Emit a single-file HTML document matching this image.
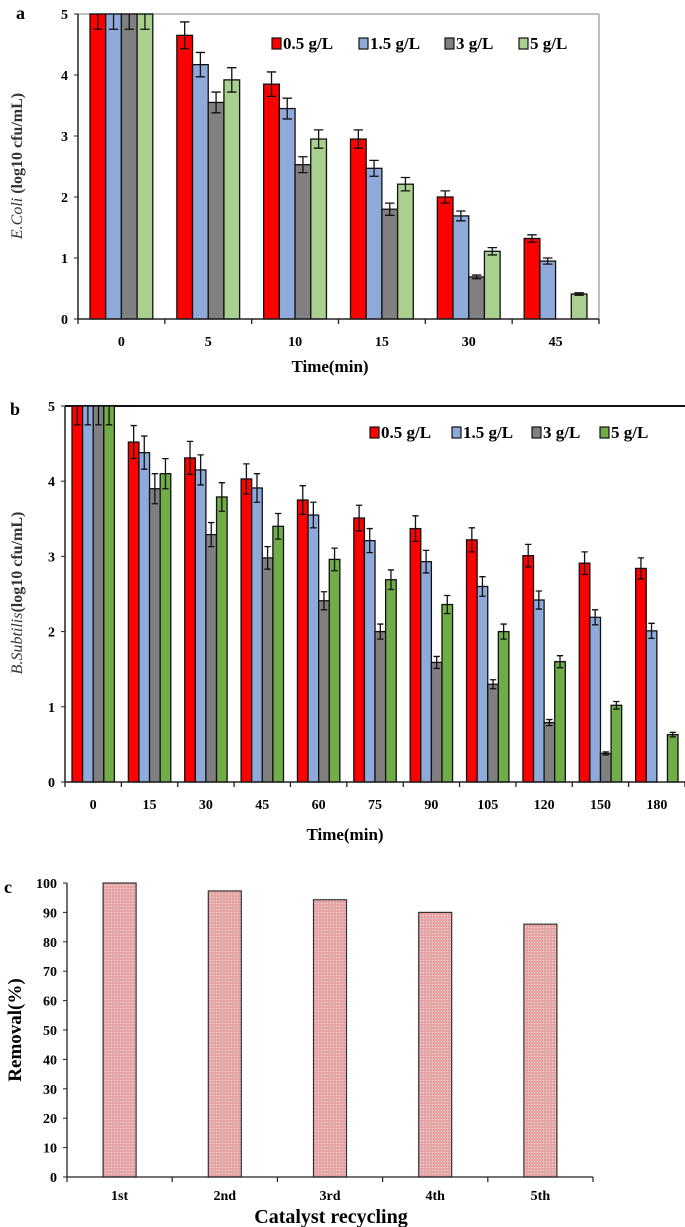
<!DOCTYPE html>
<html><head><meta charset="utf-8"><style>
html,body{margin:0;padding:0;background:#fff;}
svg{display:block;font-family:"Liberation Serif",serif;}
text{font-weight:bold;}
</style></head><body>
<svg id="fig" width="685" height="1227" viewBox="0 0 685 1227">
<defs>
<pattern id="dots" width="3" height="3" patternUnits="userSpaceOnUse">
<rect width="3" height="3" fill="#e7a4a4"/><rect x="0" y="0" width="1" height="1" fill="#fbe6e6"/>
</pattern>
</defs>
</svg>
<script>
// Panel a data
const aCats=["0","5","10","15","30","45"];
const aRed=[5,4.65,3.85,2.95,2.0,1.32];
const aBlue=[5,4.17,3.45,2.47,1.69,0.95];
const aGray=[5,3.55,2.53,1.8,0.69,0];
const aGreen=[5,3.92,2.95,2.21,1.11,0.41];
const aErrRed=[0.25,0.22,0.2,0.15,0.1,0.06];
const aErrBlue=[0.25,0.2,0.17,0.13,0.08,0.05];
const aErrGray=[0.25,0.17,0.13,0.1,0.03,0];
const aErrGreen=[0.25,0.2,0.15,0.11,0.06,0.02];
const aTicks=[0,1,2,3,4,5];
// Panel b data
const bCats=["0","15","30","45","60","75","90","105","120","150","180"];
const bRed=[5,4.52,4.31,4.03,3.75,3.51,3.37,3.22,3.01,2.91,2.84];
const bBlue=[5,4.38,4.15,3.91,3.55,3.21,2.93,2.6,2.42,2.19,2.01];
const bGray=[5,3.9,3.29,2.98,2.41,2.0,1.59,1.3,0.79,0.38,0];
const bGreen=[5,4.1,3.79,3.4,2.96,2.69,2.36,2.0,1.6,1.02,0.63];
const bErrRed=[0.25,0.22,0.22,0.2,0.19,0.17,0.17,0.16,0.15,0.15,0.14];
const bErrBlue=[0.25,0.22,0.2,0.19,0.17,0.16,0.15,0.13,0.12,0.1,0.1];
const bErrGray=[0.25,0.2,0.16,0.15,0.12,0.1,0.08,0.06,0.04,0.02,0];
const bErrGreen=[0.25,0.2,0.19,0.17,0.15,0.13,0.12,0.1,0.08,0.05,0.03];
const bTicks=[0,1,2,3,4,5];
// Panel c data
const cCats=["1st","2nd","3rd","4th","5th"];
const cVals=[100,97.3,94.3,90,86];
const cTicks=[0,10,20,30,40,50,60,70,80,90,100];
const seriesNames=["0.5 g/L","1.5 g/L","3 g/L","5 g/L"];

const svg=document.getElementById('fig');
const NS="http://www.w3.org/2000/svg";
function mk(tag,attrs,parent){const e=document.createElementNS(NS,tag);for(const k in attrs)e.setAttribute(k,attrs[k]);(parent||svg).appendChild(e);return e;}
function txt(x,y,s,size,anchor,parent){const t=mk('text',{x:x,y:y,'font-size':size,'text-anchor':anchor||'middle'},parent);t.textContent=s;return t;}

function groupedChart(o){
  const g=mk('g',{});
  
  
  const y=v=>o.y0-(v/o.ymax)*(o.y0-o.y1);
  const gw=(o.x1-o.x0)/o.cats.length;
  if(o.frameTop) mk('line',{x1:o.x0,y1:o.y1,x2:o.x1,y2:o.y1,stroke:o.frameColor,'stroke-width':o.frameW},g);
  if(o.frameRight) mk('line',{x1:o.x1,y1:o.y1,x2:o.x1,y2:o.y0,stroke:o.frameColor,'stroke-width':o.frameW},g);
  o.series.forEach((s,si)=>{
    s.vals.forEach((v,i)=>{
      if(v<=0) return;
      const x=o.x0+i*gw+o.off+si*o.bw;
      const b=mk('rect',{x:x,y:y(v),width:o.bw,height:o.y0-y(v),fill:o.colors[si],stroke:'#111','stroke-width':1.3},g);
      
      
      const e=s.err[i];
      if(e>0){
        const cx=x+o.bw/2, cap=o.bw*0.3;
        const top=Math.min(v+e,o.ymax);
        let d=`M${cx},${y(top)}V${y(v-e)}M${cx-cap},${y(v-e)}H${cx+cap}`;
        if(v+e<=o.ymax) d+=`M${cx-cap},${y(v+e)}H${cx+cap}`;
        mk('path',{d:d,stroke:'#111','stroke-width':1.3,fill:'none'},g);
      }
    });
  });
  mk('line',{x1:o.x0,y1:o.y1,x2:o.x0,y2:o.y0+0.5,stroke:'#222','stroke-width':1.5},g);
  mk('line',{x1:o.x0,y1:o.y0,x2:o.x1,y2:o.y0,stroke:'#222','stroke-width':1.5},g);
  o.ticks.forEach(t=>{
    mk('line',{x1:o.x0-4,y1:y(t),x2:o.x0,y2:y(t),stroke:'#222','stroke-width':1},g);
    const l=txt(o.x0-10,y(t)+5,String(t),14,'end',g);
    
    
  });
  for(let i=0;i<=o.cats.length;i++){
    mk('line',{x1:o.x0+i*gw,y1:o.y0,x2:o.x0+i*gw,y2:o.y0+5,stroke:'#222','stroke-width':1.3},g);
  }
  o.cats.forEach((c,i)=>{
    const l=txt(o.x0+(i+0.5)*gw,o.y0+27,c,14,'middle',g);
    
    
  });
  o.legendX.forEach((lx,si)=>{
    const le=mk('g',{},g);
    
    
    mk('rect',{x:lx,y:o.legendY-10,width:9,height:11,fill:o.colors[si],stroke:'#111','stroke-width':1.2},le);
    txt(lx+11,o.legendY+1,seriesNames[si],17,'start',le);
  });
  return g;
}

groupedChart({name:'chart-ecoli',cats:aCats,x0:78,x1:599,y0:319,y1:14,ymax:5,bw:15.7,off:12,
  series:[{vals:aRed,err:aErrRed},{vals:aBlue,err:aErrBlue},{vals:aGray,err:aErrGray},{vals:aGreen,err:aErrGreen}],
  colors:['#ff0000','#8eaadb','#808080','#a9d08e'],ticks:aTicks,frameTop:true,frameRight:true,frameColor:'#aaa',frameW:1.5,
  legendX:[272,359,445,519],legendY:48});
groupedChart({name:'chart-bsubtilis',cats:bCats,x0:65,x1:685,y0:782,y1:406,ymax:5,bw:10.6,off:7,
  series:[{vals:bRed,err:bErrRed},{vals:bBlue,err:bErrBlue},{vals:bGray,err:bErrGray},{vals:bGreen,err:bErrGreen}],
  colors:['#ff0000','#8eaadb','#808080','#70ad47'],ticks:bTicks,frameTop:true,frameRight:false,frameColor:'#111',frameW:2,
  legendX:[370,452,532,600],legendY:437});

(function(){
  const g=mk('g',{});
  
  
  const x0=67,x1=593,y0=1177,y1=883,ymax=100;
  const y=v=>y0-(v/ymax)*(y0-y1);
  const gw=(x1-x0)/cCats.length;
  cVals.forEach((v,i)=>{
    const x=x0+i*gw+(gw-33)/2;
    const b=mk('rect',{x:x,y:y(v),width:33,height:y0-y(v),fill:'url(#dots)',stroke:'#333','stroke-width':1.2},g);
    
    
  });
  mk('line',{x1:x0,y1:y1,x2:x0,y2:y0,stroke:'#222','stroke-width':1.3},g);
  mk('line',{x1:x0,y1:y0,x2:x1,y2:y0,stroke:'#222','stroke-width':1.3},g);
  cTicks.forEach(t=>{
    mk('line',{x1:x0-4,y1:y(t),x2:x0,y2:y(t),stroke:'#222','stroke-width':1},g);
    const l=txt(x0-10,y(t)+5,String(t),14,'end',g);
    
    
  });
  for(let i=0;i<=cCats.length;i++) mk('line',{x1:x0+i*gw,y1:y0,x2:x0+i*gw,y2:y0+5,stroke:'#222','stroke-width':1.2},g);
  cCats.forEach((c,i)=>{
    const l=txt(x0+(i+0.5)*gw,y0+23,c,14,'middle',g);
    
    
  });
})();
</script>
<svg style="position:absolute;left:0;top:0" width="685" height="1227">
<g font-family="Liberation Serif, serif" font-weight="bold">
<text x="16" y="19" font-size="18">a</text>
<text x="10" y="415" font-size="18">b</text>
<text x="4" y="893" font-size="18">c</text>
<text transform="translate(22,166) rotate(-90)" text-anchor="middle" font-size="16" fill="#333"><tspan font-style="italic" font-weight="normal">E.Coli</tspan> (log10 cfu/mL)</text>
<text x="330" y="372" text-anchor="middle" font-size="17">Time(min)</text>
<text transform="translate(22,593) rotate(-90)" text-anchor="middle" font-size="16" fill="#333"><tspan font-style="italic" font-weight="normal">B.Subtilis</tspan>(log10 cfu/mL)</text>
<text x="345" y="840" text-anchor="middle" font-size="17">Time(min)</text>
<text transform="translate(21,1030) rotate(-90)" text-anchor="middle" font-size="19">Removal(%)</text>
<text x="331" y="1223" text-anchor="middle" font-size="20">Catalyst recycling</text>
</g>
</svg>
</body></html>
